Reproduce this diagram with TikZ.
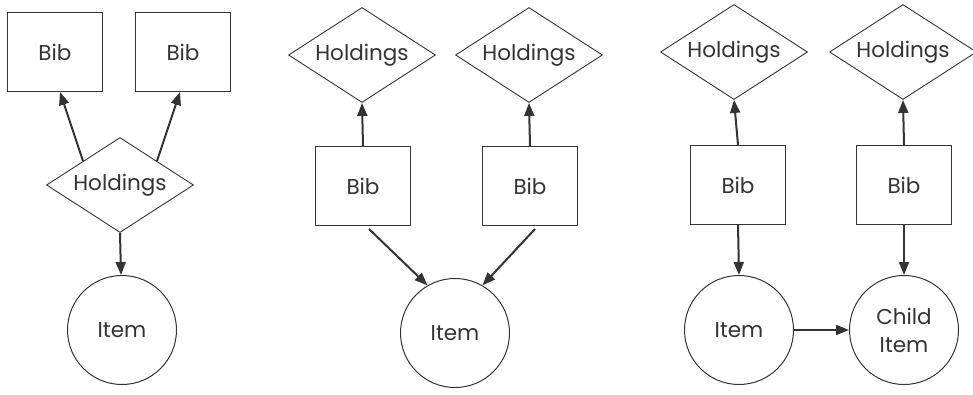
\documentclass[tikz,border=0pt]{standalone}
\usepackage{fontspec}
\setmainfont{Poppins}
\usetikzlibrary{shapes.geometric,arrows.meta,calc}
\definecolor{ink}{HTML}{333333}
\tikzset{
  every node/.style={font=\fontsize{21.5}{28}\selectfont, text=ink},
  bibbox/.style={draw=ink, line width=1pt, rectangle, minimum width=95pt, minimum height=79pt, inner sep=0pt},
  holdbox/.style={draw=ink, line width=0.9pt, diamond, aspect=1.56, minimum width=147pt, minimum height=95pt, inner sep=0pt},
  itembox/.style={draw=ink, line width=1pt, circle, minimum size=109pt, inner sep=0pt, align=center},
  link/.style={draw=ink, line width=2pt, -{Triangle[length=13pt,width=10pt]}}
}
\begin{document}
\begin{tikzpicture}[x=1pt,y=-1pt]
\useasboundingbox (0,0) rectangle (973,395);

% Left group: one holdings record linking two bibs and an item
\node[bibbox]  (la) at (55,52)  {Bib};
\node[bibbox]  (lb) at (183,52) {Bib};
\node[holdbox] (lh) at (120,185) {Holdings};
\node[itembox] (li) at (122,330) {Item};
\draw[link] (lh.north west) -- ([xshift=5pt]la.south);
\draw[link] (lh.north east) -- ([xshift=-3pt]lb.south);
\draw[link] (lh.south) -- ([xshift=-1pt]li.north);

% Middle group: two bibs sharing one item
\node[holdbox] (mh1) at (362,55) {Holdings};
\node[holdbox] (mh2) at (529,55) {Holdings};
\node[bibbox]  (mb1) at (363,186) {Bib};
\node[bibbox]  (mb2) at (530,186) {Bib};
\node[itembox] (mi)  at (455,333) {Item};
\draw[link] (mb1.north) -- (mh1.south);
\draw[link] (mb2.north) -- (mh2.south);
\draw[link] ([xshift=6pt,yshift=-3pt]mb1.south) -- (mi.120);
\draw[link] ([xshift=5pt,yshift=-3pt]mb2.south) -- (mi.60);

% Right group: item with a child item
\node[holdbox] (rh1) at (734,52) {Holdings};
\node[holdbox] (rh2) at (903,52) {Holdings};
\node[bibbox]  (rb1) at (738,185) {Bib};
\node[bibbox]  (rb2) at (904,185) {Bib};
\node[itembox] (ri)  at (739,330) {Item};
\node[itembox] (rc)  at (904,330) {Child\\Item};
\draw[link] (rb1.north) -- (rh1.south);
\draw[link] (rb2.north) -- (rh2.south);
\draw[link] (rb1.south) -- (ri.north);
\draw[link] (rb2.south) -- (rc.north);
\draw[link] (ri.east) -- (rc.west);
\end{tikzpicture}
\end{document}
